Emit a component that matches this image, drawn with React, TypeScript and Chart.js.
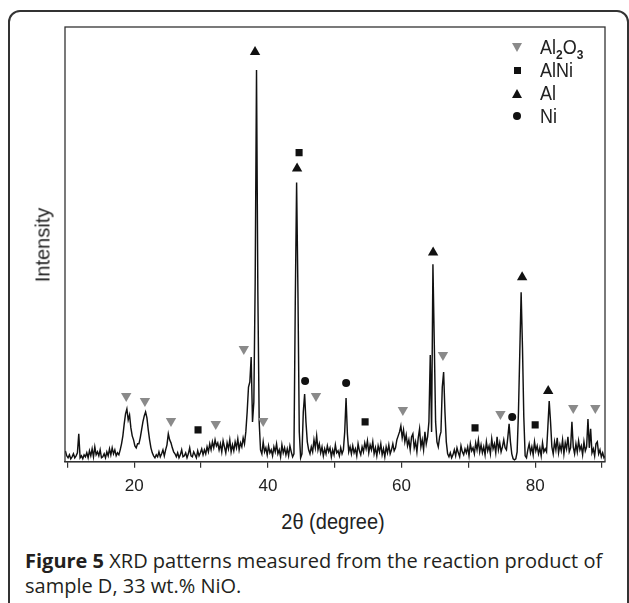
import React, { useEffect, useRef } from 'react';
import { Chart, registerables } from 'chart.js';

Chart.register(...registerables);

// 2θ sampling grid of the measured pattern
const ANGLE_START = 9.7;
const ANGLE_STEP = 0.2;

// Measured intensity (arbitrary units), one row per degree (5 samples each)
const intensity = [
  11, 6, 4, 7, 3,
  5, 8, 4, 6, 9,
  28, 4, 6, 3, 7,
  5, 9, 4, 11, 6,
  13, 5, 15, 7, 10,
  6, 12, 4, 5, 8,
  4, 10, 6, 13, 7,
  14, 8, 12, 6, 9,
  7, 12, 18, 26, 38,
  48, 53, 42, 47, 34,
  26, 22, 16, 14, 18,
  18, 24, 32, 40, 46,
  50, 44, 32, 22, 14,
  9, 6, 4, 7, 5,
  10, 5, 8, 12, 6,
  12, 17, 28, 22, 19,
  14, 10, 8, 5, 9,
  4, 7, 12, 5, 6,
  9, 4, 8, 14, 6,
  5, 10, 7, 4, 11,
  6, 9, 13, 7, 12,
  8, 15, 10, 18, 12,
  20, 14, 22, 16, 19,
  12, 18, 10, 21, 15,
  9, 19, 13, 22, 10,
  17, 11, 20, 14, 23,
  12, 19, 15, 24, 18,
  30, 50, 75, 80, 105,
  40, 60, 180, 393, 170,
  40, 12, 8, 20, 10,
  14, 7, 16, 9, 12,
  6, 15, 10, 18, 8,
  12, 5, 17, 9, 14,
  7, 13, 6, 16, 10,
  5, 8, 160, 280, 170,
  30, 4, 8, 50, 68,
  40, 20, 12, 8, 15,
  10, 22, 14, 26, 12,
  18, 9, 15, 6, 13,
  8, 16, 10, 14, 5,
  12, 7, 17, 9, 11,
  6, 14, 8, 12, 30,
  64, 28, 10, 15, 8,
  16, 9, 13, 6, 18,
  11, 7, 15, 10, 19,
  13, 21, 9, 17, 12,
  20, 8, 14, 6, 16,
  10, 18, 7, 13, 5,
  15, 9, 17, 8, 12,
  18, 11, 14, 22, 26,
  30, 36, 24, 32, 20,
  27, 16, 22, 12, 25,
  28, 14, 20, 10, 24,
  33, 15, 22, 12, 30,
  18, 25, 40, 107, 30,
  198, 120, 40, 20, 15,
  25, 30, 75, 90, 50,
  20, 8, 5, 9, 4,
  7, 12, 6, 14, 9,
  5, 16, 10, 7, 13,
  9, 15, 6, 18, 11,
  14, 8, 19, 12, 22,
  10, 17, 9, 15, 7,
  20, 11, 16, 8, 23,
  13, 18, 9, 25, 12,
  19, 10, 15, 22, 14,
  12, 24, 38, 20, 8,
  3, 2, 3, 10, 50,
  110, 170, 115, 45, 6,
  4, 12, 18, 9, 15,
  7, 20, 11, 16, 8,
  14, 6, 19, 10, 13,
  10, 35, 61, 40, 15,
  8, 20, 12, 24, 9,
  17, 11, 22, 8, 19,
  13, 25, 10, 14, 40,
  15, 8, 18, 10, 21,
  12, 16, 7, 20, 11,
  15, 43, 14, 33, 9,
  13, 6, 18, 20, 8,
  12, 5, 9, 4, 6,
];

// Phase identification markers: 2θ position and marker height
const al2o3Angles = [18.8, 21.6, 25.5, 32.2, 36.4, 39.3, 47.2, 60.2, 66.2, 74.8, 85.7, 89.0];
const al2o3Heights = [66, 61, 41, 38, 113, 41, 66, 52, 107, 48, 54, 54];
const alniAngles = [29.55, 44.67, 54.55, 71.0, 80.0];
const alniHeights = [32, 310, 40, 34, 37];
const alAngles = [38.08, 44.37, 64.73, 78.05, 81.95];
const alHeights = [411, 294, 210, 185, 71];
const niAngles = [45.57, 51.71, 76.56];
const niHeights = [81, 79, 45];

const phaseNames = ['Al2O3', 'AlNi', 'Al', 'Ni'];
const phaseColors = ['#8a8a8a', '#111111', '#111111', '#111111'];

const xTickValues = [10, 20, 30, 40, 50, 60, 70, 80, 90];
const xTickLabels = [20, 40, 60, 80];

const X_MIN = 9.64;
const X_MAX = 90.45;
const Y_MAX = 436;

const TEXT_FONT = '"Liberation Sans", Arial, Helvetica, sans-serif';

function pairs(xs: number[], ys: number[]) {
  return xs.map((x, i) => ({ x, y: ys[i] }));
}

function subscriptFormula(name: string) {
  const parts = name.split(/(\d+)/).filter((p) => p.length > 0);
  return parts.map((p, i) =>
    /^\d+$/.test(p) ? (
      <sub key={i} style={{ fontSize: 12, verticalAlign: -5, lineHeight: 0, fontWeight: 'bold' }}>{p}</sub>
    ) : (
      <span key={i}>{p}</span>
    )
  );
}

function LegendMarker({ kind, color }: { kind: number; color: string }) {
  if (kind === 0) {
    return <div style={{ width: 0, height: 0, borderLeft: '5.5px solid transparent', borderRight: '5.5px solid transparent', borderTop: `9px solid ${color}` }} />;
  }
  if (kind === 1) {
    return <div style={{ width: 7, height: 7, background: color }} />;
  }
  if (kind === 2) {
    return <div style={{ width: 0, height: 0, borderLeft: '5.5px solid transparent', borderRight: '5.5px solid transparent', borderBottom: `9px solid ${color}` }} />;
  }
  return <div style={{ width: 8, height: 8, borderRadius: '50%', background: color }} />;
}

const framePlugin = {
  id: 'plotFrame',
  afterDatasetsDraw(chart: any) {
    const { ctx, chartArea: a } = chart;
    ctx.save();
    ctx.strokeStyle = '#333333';
    ctx.lineWidth = 1.3;
    ctx.strokeRect(a.left, a.top, a.right - a.left, a.bottom - a.top);
    ctx.restore();
  },
};

export default function App() {
  const canvasRef = useRef<HTMLCanvasElement | null>(null);

  useEffect(() => {
    const canvas = canvasRef.current;
    if (!canvas) return;
    const pattern = intensity.map((v, i) => ({ x: ANGLE_START + ANGLE_STEP * i, y: v }));
    const markerCommon = { type: 'scatter' as const, showLine: false, borderWidth: 0 };
    const chart = new Chart(canvas, {
      type: 'scatter',
      data: {
        datasets: [
          { ...markerCommon, label: phaseNames[0], data: pairs(al2o3Angles, al2o3Heights), pointStyle: 'triangle', rotation: 180, pointRadius: 6, backgroundColor: phaseColors[0] },
          { ...markerCommon, label: phaseNames[1], data: pairs(alniAngles, alniHeights), pointStyle: 'rect', pointRadius: 5, backgroundColor: phaseColors[1] },
          { ...markerCommon, label: phaseNames[2], data: pairs(alAngles, alHeights), pointStyle: 'triangle', pointRadius: 6, backgroundColor: phaseColors[2] },
          { ...markerCommon, label: phaseNames[3], data: pairs(niAngles, niHeights), pointStyle: 'circle', pointRadius: 4, backgroundColor: phaseColors[3] },
          { type: 'line' as const, label: 'pattern', data: pattern, borderColor: '#111111', borderWidth: 1.45, pointRadius: 0, tension: 0, fill: false },
        ] as any,
      },
      options: {
        responsive: false,
        animation: false,
        events: [],
        layout: { padding: { left: 65, right: 24, top: 27, bottom: 0.8 } },
        plugins: { legend: { display: false }, tooltip: { enabled: false } },
        scales: {
          x: {
            type: 'linear',
            min: X_MIN,
            max: X_MAX,
            position: 'bottom',
            border: { display: true, color: '#333333', width: 1.3 },
            grid: { display: true, drawOnChartArea: false, drawTicks: true, tickLength: 6, color: '#333333', lineWidth: 1.2 },
            afterBuildTicks: (scale: any) => {
              scale.ticks = xTickValues.map((v) => ({ value: v }));
            },
            ticks: {
              autoSkip: false,
              maxRotation: 0,
              padding: 8,
              color: '#222222',
              font: { family: TEXT_FONT, size: 17 },
              callback: (v: any) => (xTickLabels.includes(Number(v)) ? String(v) : ''),
            },
          },
          y: { type: 'linear', min: 0, max: Y_MAX, display: false },
        },
      } as any,
      plugins: [framePlugin],
    });
    return () => chart.destroy();
  }, []);

  const legendRowCenters = [47, 70, 93, 116];

  return (
    <div style={{ position: 'absolute', left: 0, top: 0, width: 629, height: 603, overflow: 'hidden', background: '#ffffff' }}>
      <div style={{ position: 'absolute', left: 8, top: 10, width: 617, height: 640, border: '2px solid #333333', borderRadius: 12, boxSizing: 'content-box' }} />
      <canvas ref={canvasRef} width={629} height={505} style={{ position: 'absolute', left: 0, top: 0, width: 629, height: 505 }} />
      <div style={{ position: 'absolute', left: 43, top: 245, transform: 'translate(-50%, -50%) rotate(-90deg)', font: `20px ${TEXT_FONT}`, color: '#222', whiteSpace: 'nowrap' }}>Intensity</div>
      <div style={{ position: 'absolute', left: 333, top: 522, transform: 'translate(-50%, -50%) scaleY(1.08)', font: `20px ${TEXT_FONT}`, color: '#222', whiteSpace: 'nowrap' }}>2θ (degree)</div>
      {phaseNames.map((name, i) => (
        <div key={name} style={{ position: 'absolute', left: 505, top: legendRowCenters[i] - 11, height: 22, display: 'flex', alignItems: 'center', font: `18px ${TEXT_FONT}`, color: '#222', whiteSpace: 'nowrap' }}>
          <div style={{ width: 24, display: 'flex', justifyContent: 'center', alignItems: 'center' }}>
            <LegendMarker kind={i} color={phaseColors[i]} />
          </div>
          <div style={{ marginLeft: 11, transform: 'scaleY(1.12)' }}>{subscriptFormula(name)}</div>
        </div>
      ))}
      <div style={{ position: 'absolute', left: 25, top: 548, font: '20px "Open Sans", "Noto Sans", sans-serif', lineHeight: '25px', color: '#231f20', whiteSpace: 'nowrap' }}>
        <b>Figure 5</b> XRD patterns measured from the reaction product of
        <br />
        sample D, 33 wt.% NiO.
      </div>
    </div>
  );
}
